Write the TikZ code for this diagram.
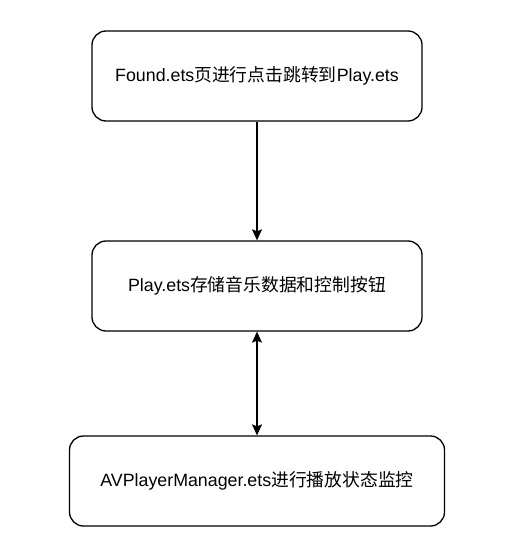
\documentclass[tikz,border=0pt]{standalone}
\usepackage{fontspec}
\setmainfont{Liberation Sans}
\newfontfamily\cjkfont{Noto Sans CJK SC}
\newcommand{\zh}[1]{{\cjkfont #1}}
\usetikzlibrary{arrows.meta}
\begin{document}
\begin{tikzpicture}[x=1pt,y=-1pt,
  box/.style={draw=black,line width=1.3pt,rounded corners=14pt,fill=white,inner sep=0pt,font=\fontsize{17.8}{20}\selectfont},
  tip/.tip={Stealth[length=11pt,width=10pt,inset=2pt]},
  conn/.style={line width=1.3pt,-tip},
  bconn/.style={line width=1.3pt,tip-tip}]
\useasboundingbox (0,0) rectangle (518,556);
\node[box,minimum width=330pt,minimum height=90pt] (a) at (257,76) {Found.ets\zh{页进行点击跳转到}Play.ets};
\node[box,minimum width=330pt,minimum height=90pt] (b) at (257,286) {Play.ets\zh{存储音乐数据和控制按钮}};
\node[box,minimum width=375pt,minimum height=90pt] (c) at (257,481) {AVPlayerManager.ets\zh{进行播放状态监控}};
\draw[conn] (a) -- (b);
\draw[bconn] (b) -- (c);
\end{tikzpicture}
\end{document}
